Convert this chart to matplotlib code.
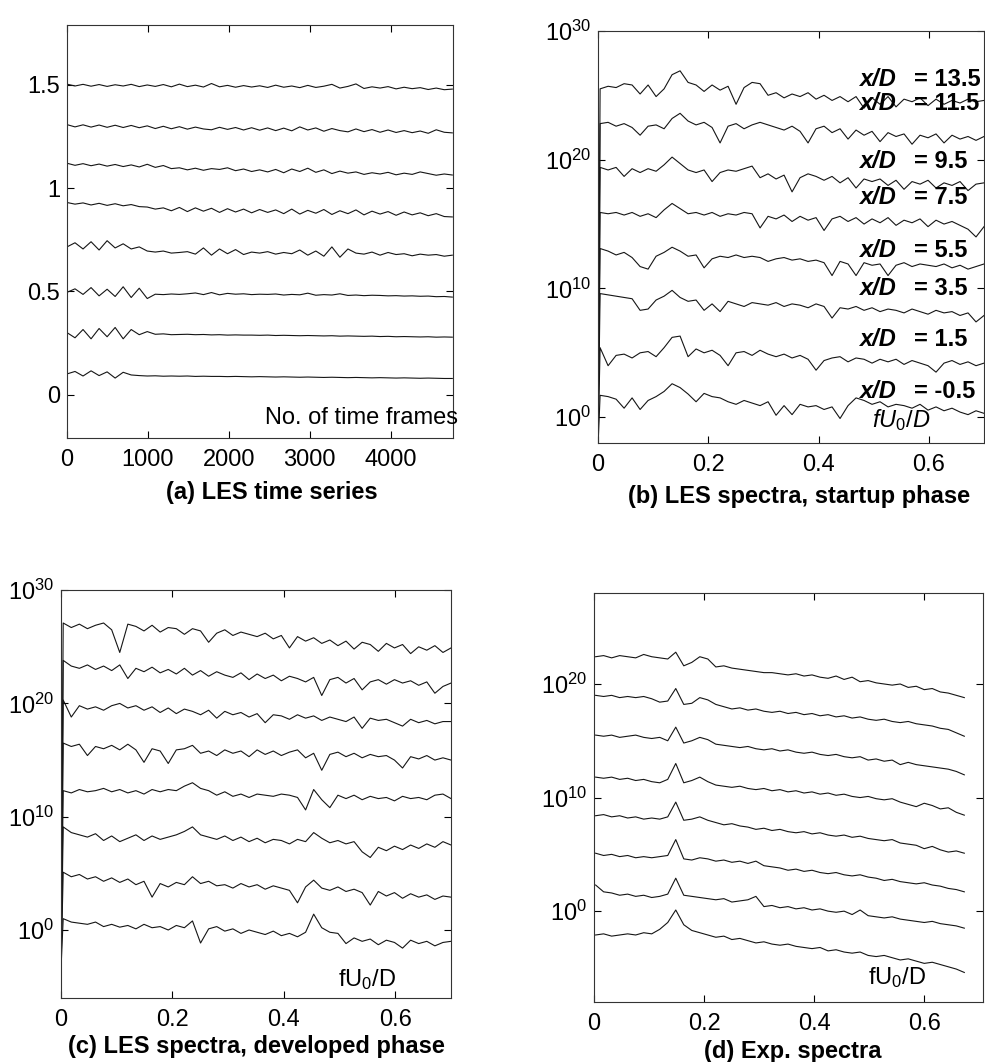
import numpy as np
import matplotlib
matplotlib.use('Agg')
import matplotlib.pyplot as plt

plt.rcParams['font.family'] = ['Liberation Sans', 'DejaVu Sans']
plt.rcParams['mathtext.fontset'] = 'custom'
plt.rcParams['mathtext.rm'] = 'Liberation Sans'
plt.rcParams['mathtext.it'] = 'Liberation Sans:italic'
plt.rcParams['mathtext.bf'] = 'Liberation Sans:bold'
plt.rcParams['font.size'] = 17

# ---- (a) LES time series: display shift + signal (thousandths) ----
a_shift = [1.5, 1.3, 1.1, 0.9, 0.7, 0.5, 0.3, 0.1]
a_sig = [
    [3, -6, 2, -7, 1, -8, 0, -6, 2, -9, -1, -8, 1, -10, 3, -9, -2, -11, 6, -10, -3, -12, -4, -11, -5,
     -13, -2, -12, -6, -14, -3, -13, -7, 2, -16, -8, 4, -18, -10, -16, -9, -20, -12, -19, -14, -23, -16, -24, -21],
    [7, -4, 6, -5, 5, -6, 4, -7, 3, -8, 1, -12, -1, -13, -3, -15, -5, -14, -18, -6, -16, -7, -19, -8, -20,
     -9, -22, -10, -23, -4, -19, -9, -25, -12, -22, -28, -14, -27, -17, -30, -19, -31, -22, -32, -24, -35, -18, -30, -33],
    [20, 10, 18, 8, 16, 6, 14, 4, 12, 2, 15, 0, 9, -6, -2, -12, -4, -14, -6, -10, -2, -16, -8, -20, -12,
     -22, -10, -26, -8, -20, -4, -24, -12, -30, -18, -28, -22, -34, -26, -32, -24, -36, -28, -34, -22, -30, -38, -32, -37],
    [30, 22, 28, 18, 26, 16, 24, 14, 20, 10, 8, -2, 4, -10, 6, -14, 4, -12, 2, -18, 0, -16, -2, -20, -4,
     -18, -6, -24, -2, -26, -8, -22, -4, -28, -10, -24, -6, -30, -12, -26, -14, -32, -16, -30, -20, -34, -24, -38, -40],
    [15, 35, 5, 40, 0, 45, 10, 30, 5, 15, -5, -10, -5, -15, -12, -8, -20, 10, -25, 5, -18, 2, -22, -10, -15,
     -8, -20, -12, -18, 0, -25, -5, -30, 15, -35, 5, -15, -20, -10, -25, -12, -22, -18, -28, -20, -25, -22, -30, -25],
    [-5, 12, -15, 18, -22, 10, -25, 22, -30, 15, -35, -14, -16, -13, -15, -12, -8, -16, -6, -17, -10, -14, -12, -16, -14,
     -15, -13, -18, -15, -17, -9, -19, -16, -18, -12, -20, -18, -21, -19, -20, -22, -21, -23, -22, -24, -23, -26, -25, -28],
    [0, -25, 15, -30, 20, -20, 25, -30, 15, -10, 5, -8, -6, -10, -9, -8, -10, -9, -11, -10, -12, -11, -12, -12, -13,
     -12, -14, -13, -14, -15, -14, -15, -16, -15, -17, -16, -17, -18, -17, -19, -18, -20, -19, -20, -21, -20, -22, -21, -22],
    [0, 12, -10, 15, -8, 10, -20, 8, -5, -8, -10, -9, -11, -10, -11, -10, -12, -11, -12, -12, -13, -12, -13, -14, -13,
     -14, -15, -14, -15, -16, -15, -16, -17, -16, -17, -18, -17, -18, -19, -18, -19, -20, -19, -20, -21, -20, -21, -22, -22],
]
a_last_frame = 4760

# ---- (b) LES spectra, startup phase (log10 of power, first value is f = 0) ----
b_log = [
    [-2.5, 25.5, 25.7, 25.6, 25.9, 25.8, 25.1, 25.8, 24.9, 25.5, 26.6, 26.9, 26.0, 25.8, 25.3, 25.8, 25.4, 25.7, 24.3, 25.6,
     26.0, 25.9, 25.0, 25.2, 24.8, 25.1, 24.9, 25.2, 24.7, 25.0, 24.6, 24.9, 24.5, 24.9, 24.0, 24.8, 24.3, 24.9, 24.1, 24.7,
     24.5, 24.8, 24.2, 24.7, 24.3, 24.6, 24.4, 24.7, 24.5, 24.6],
    [-2.5, 22.8, 22.9, 22.6, 22.8, 22.5, 21.9, 22.6, 22.7, 22.4, 23.2, 23.6, 23.0, 22.7, 22.9, 22.5, 21.3, 22.6, 22.8, 22.4,
     22.7, 22.9, 22.7, 22.5, 22.3, 22.6, 22.2, 21.3, 22.4, 22.6, 22.1, 22.4, 21.6, 22.3, 21.9, 22.2, 21.4, 22.1, 21.8, 22.0,
     21.2, 21.9, 21.7, 22.0, 21.3, 21.9, 21.6, 21.8, 21.5, 21.8],
    [-2.5, 19.4, 19.2, 19.4, 18.7, 19.3, 19.0, 19.3, 19.1, 19.6, 20.2, 19.7, 19.2, 19.0, 19.2, 18.3, 19.0, 19.2, 19.1, 19.3,
     19.5, 18.6, 18.9, 18.5, 18.8, 17.5, 18.6, 18.9, 18.7, 18.4, 18.7, 18.2, 18.6, 17.8, 18.5, 18.3, 18.5, 18.0, 18.4, 17.7,
     18.3, 18.1, 18.4, 17.8, 18.2, 18.0, 18.3, 17.6, 18.1, 18.2],
    [-2.5, 15.9, 15.8, 15.9, 15.7, 15.9, 15.6, 15.8, 15.5, 16.1, 16.6, 16.2, 15.8, 15.9, 15.7, 15.9, 15.6, 15.8, 15.7, 15.9,
     15.8, 14.7, 15.6, 15.4, 15.7, 15.2, 15.6, 15.3, 15.5, 14.5, 15.4, 15.6, 15.2, 15.5, 15.0, 15.4, 15.1, 15.5, 14.9, 15.3,
     15.1, 15.4, 14.8, 15.3, 15.0, 15.2, 14.9, 14.6, 14.0, 14.8],
    [-2.5, 13.1, 12.9, 12.6, 12.8, 12.4, 11.7, 11.5, 12.5, 12.8, 13.2, 12.9, 12.5, 12.6, 11.6, 12.3, 12.5, 12.4, 12.6, 12.4,
     12.5, 12.4, 12.1, 12.3, 12.4, 12.2, 12.3, 12.1, 12.2, 12.0, 11.0, 12.1, 11.9, 11.0, 12.0, 11.8, 11.9, 11.0, 11.8, 12.0,
     11.7, 11.9, 11.8, 11.7, 11.9, 11.6, 11.8, 11.5, 11.7, 11.9],
    [-2.5, 9.6, 9.5, 9.4, 9.3, 9.2, 8.3, 8.4, 9.1, 9.4, 9.85, 9.3, 9.0, 9.1, 8.3, 8.8, 8.2, 9.0, 8.8, 8.6,
     8.9, 8.8, 8.7, 8.9, 8.6, 8.8, 8.7, 8.5, 8.8, 8.6, 7.7, 8.5, 8.4, 8.6, 8.3, 8.5, 8.2, 8.4, 8.3, 8.1,
     8.4, 8.2, 8.0, 8.3, 8.1, 8.2, 7.9, 8.1, 7.4, 7.9],
    [-2.5, 5.4, 4.0, 4.8, 4.9, 4.6, 5.0, 5.1, 4.7, 5.4, 6.2, 6.3, 4.7, 5.3, 5.0, 5.2, 4.8, 4.0, 5.0, 5.1,
     4.8, 5.2, 4.9, 4.7, 4.9, 4.6, 4.8, 4.5, 3.65, 4.4, 4.6, 4.7, 4.3, 4.6, 4.5, 4.2, 4.5, 4.3, 4.5, 4.1,
     4.4, 4.2, 4.0, 3.5, 4.2, 4.4, 4.1, 4.3, 4.0, 4.2],
    [-2.5, 1.7, 1.6, 1.4, 0.7, 1.5, 0.6, 1.3, 1.6, 2.0, 2.6, 2.3, 1.8, 1.2, 1.85, 1.6, 1.5, 1.2, 1.0, 1.3,
     1.1, 0.9, 1.2, 0.15, 0.9, 0.2, 1.0, 0.8, 0.9, 0.6, 0.8, -0.1, 0.9, 1.5, 1.3, 1.0, 1.2, 0.8, 1.0, 0.9,
     0.7, 1.0, 0.55, 0.8, 0.5, 0.7, 0.4, 0.2, 0.5, 0.3],
]
b_names = ['13.5', '11.5', '9.5', '7.5', '5.5', '3.5', '1.5', '-0.5']

# ---- (c) LES spectra, developed phase ----
c_log = [
    [-3.5, 27.1, 26.7, 27.0, 26.6, 26.9, 27.1, 26.5, 24.5, 27.0, 26.8, 26.4, 26.9, 26.3, 26.7, 26.6, 26.1, 26.6, 26.4, 25.4,
     26.2, 26.5, 26.0, 26.3, 26.1, 25.9, 26.2, 25.7, 26.0, 24.9, 25.9, 25.5, 25.8, 25.3, 25.6, 25.1, 25.5, 24.8, 25.4, 25.2,
     24.6, 25.3, 24.9, 25.2, 24.4, 25.0, 24.7, 25.1, 24.5, 24.9],
    [-3.5, 23.8, 23.3, 23.1, 23.4, 23.0, 23.3, 22.9, 23.4, 22.2, 23.1, 22.8, 23.2, 22.7, 23.0, 22.6, 23.1, 22.5, 22.9, 22.4,
     22.8, 22.5, 22.3, 22.7, 22.1, 22.6, 22.2, 22.5, 22.0, 22.4, 22.2, 21.9, 22.3, 20.7, 22.1, 22.3, 21.8, 22.2, 21.2, 21.9,
     22.1, 21.7, 22.1, 21.8, 22.0, 21.6, 21.9, 20.9, 21.5, 21.8],
    [-3.5, 20.3, 18.8, 19.8, 19.5, 19.7, 19.4, 19.8, 20.0, 19.6, 19.8, 19.4, 19.7, 19.2, 19.6, 19.1, 19.5, 19.3, 19.0, 19.4,
     18.7, 19.3, 19.0, 19.2, 18.8, 19.1, 18.3, 19.0, 18.9, 18.6, 19.0, 18.7, 18.9, 18.5, 18.8, 18.6, 18.4, 18.8, 17.8, 18.7,
     18.5, 18.6, 18.3, 18.0, 18.6, 18.3, 18.5, 18.2, 18.4, 18.4],
    [-3.5, 16.5, 16.2, 16.4, 15.4, 16.2, 16.0, 16.3, 15.9, 16.4, 15.9, 14.8, 16.0, 15.8, 14.7, 15.9, 16.0, 16.3, 15.6, 15.8,
     15.4, 15.9, 15.6, 15.8, 15.3, 15.9, 15.5, 15.8, 15.4, 15.7, 15.9, 15.2, 15.6, 14.1, 15.5, 15.7, 15.3, 15.6, 15.2, 15.5,
     15.3, 15.4, 15.0, 14.3, 15.3, 15.1, 15.4, 15.0, 15.2, 15.0],
    [-3.5, 12.3, 12.1, 12.4, 12.2, 12.3, 12.5, 12.2, 12.4, 12.1, 12.3, 12.0, 12.4, 12.2, 12.4, 12.3, 12.7, 13.0, 12.5, 12.3,
     11.9, 12.2, 11.8, 12.0, 11.7, 12.0, 11.9, 11.8, 12.0, 11.9, 11.7, 10.6, 12.4, 11.5, 10.8, 11.9, 11.6, 11.9, 11.5, 11.8,
     11.6, 11.7, 11.4, 11.8, 11.6, 11.7, 11.5, 11.9, 12.0, 11.6],
    [-3.5, 9.1, 8.6, 8.4, 8.2, 8.5, 7.9, 8.3, 7.8, 8.1, 8.4, 7.9, 8.3, 8.0, 8.2, 8.4, 8.7, 9.1, 8.4, 8.2,
     8.0, 8.3, 7.9, 8.2, 7.8, 8.1, 7.7, 8.0, 7.9, 7.6, 8.0, 7.8, 8.6, 8.1, 7.7, 7.9, 7.6, 7.8, 6.9, 6.4,
     7.3, 7.0, 7.4, 7.1, 7.5, 7.2, 7.6, 7.3, 7.8, 7.5],
    [-3.5, 5.1, 4.7, 4.9, 4.5, 4.7, 4.3, 4.6, 4.2, 4.5, 4.0, 4.3, 2.9, 4.1, 3.8, 4.2, 4.0, 4.7, 4.1, 4.3,
     3.9, 4.0, 3.7, 4.1, 3.8, 4.0, 3.6, 3.9, 3.7, 3.5, 2.4, 3.8, 4.4, 3.7, 3.5, 3.8, 3.4, 3.6, 3.3, 2.2,
     3.4, 3.0, 3.3, 2.8, 3.2, 2.9, 3.1, 2.7, 3.0, 2.9],
    [-3.5, 1.0, 0.7, 0.6, 0.5, 0.7, 0.3, 0.5, 0.25, 0.4, 0.1, 0.5, 0.2, 0.3, 0.0, 0.4, 0.2, 0.8, -1.15, 0.1,
     0.3, -0.1, 0.1, -0.3, 0.0, -0.2, -0.4, -0.1, -0.5, -0.3, -0.6, -0.2, 1.4, 0.2, -0.2, -0.3, -1.2, -0.7, -1.0, -0.8,
     -1.3, -0.9, -1.1, -1.6, -0.9, -1.2, -1.0, -1.4, -1.1, -1.0],
]

# ---- (d) experimental spectra ----
d_log = [
    [22.4, 22.5, 22.3, 22.5, 22.4, 22.3, 22.6, 22.4, 22.3, 22.2, 22.8, 21.6, 21.9, 22.4, 22.2, 21.5, 21.6, 21.4, 21.3, 21.2,
     21.1, 21.0, 21.0, 20.9, 20.8, 20.9, 20.7, 20.8, 20.6, 20.5, 20.7, 20.4, 20.6, 20.2, 20.3, 20.1, 20.0, 19.9, 20.0, 19.7,
     19.8, 19.5, 19.6, 19.3, 19.2, 19.0, 18.8],
    [19.0, 18.9, 19.0, 18.8, 18.9, 18.8, 18.9, 18.7, 18.4, 18.5, 19.6, 18.2, 18.3, 18.8, 18.6, 18.2, 18.0, 17.8, 17.9, 17.7,
     17.8, 17.6, 17.5, 17.6, 17.4, 17.5, 17.3, 17.4, 17.2, 17.3, 17.1, 17.2, 17.0, 17.1, 16.9, 16.8, 16.9, 16.7, 16.6, 16.7,
     16.5, 16.4, 16.3, 16.1, 16.0, 15.7, 15.4],
    [15.5, 15.4, 15.5, 15.3, 15.4, 15.5, 15.3, 15.2, 15.3, 15.0, 16.2, 14.8, 15.0, 15.3, 15.1, 14.7, 14.6, 14.5, 14.4, 14.5,
     14.3, 14.2, 14.3, 14.1, 14.2, 14.0, 13.9, 14.0, 13.8, 13.7, 13.8, 13.6, 13.5, 13.6, 13.3, 13.4, 13.2, 13.3, 12.9, 13.1,
     12.9, 12.8, 12.7, 12.6, 12.5, 12.3, 12.0],
    [11.8, 11.7, 11.8, 11.6, 11.7, 11.5, 11.6, 11.4, 11.3, 11.6, 13.0, 11.3, 11.5, 11.8, 11.4, 11.1, 11.0, 10.9, 11.0, 10.8,
     10.7, 10.8, 10.6, 10.7, 10.5, 10.6, 10.4, 10.5, 10.3, 10.4, 10.2, 10.3, 10.1, 10.0, 10.1, 9.9, 9.8, 9.9, 9.6, 9.4,
     9.2, 9.5, 9.3, 9.0, 9.1, 8.7, 8.45],
    [8.4, 8.5, 8.3, 8.4, 8.2, 8.3, 8.1, 8.2, 8.1, 8.3, 9.6, 8.0, 8.1, 8.3, 8.0, 7.8, 7.6, 7.7, 7.5, 7.4,
     7.2, 7.3, 7.1, 7.2, 7.0, 6.9, 7.0, 6.8, 6.9, 6.7, 6.6, 6.7, 6.5, 6.6, 6.4, 6.3, 6.2, 6.3, 6.0, 5.9,
     5.8, 5.5, 5.7, 5.4, 5.2, 5.3, 5.1],
    [5.1, 4.9, 5.0, 4.8, 4.9, 4.7, 4.8, 4.7, 4.8, 4.9, 6.3, 4.6, 4.5, 4.7, 4.6, 4.4, 4.5, 4.3, 4.4, 4.2,
     4.4, 4.0, 3.9, 3.8, 3.6, 3.7, 3.5, 3.6, 3.4, 3.3, 3.4, 3.2, 3.1, 3.2, 3.0, 2.9, 2.7, 2.8, 2.6, 2.5,
     2.4, 2.5, 2.3, 2.2, 2.0, 1.9, 1.7],
    [2.3, 1.7, 1.6, 1.4, 1.5, 1.3, 1.4, 1.2, 1.3, 1.5, 2.9, 1.4, 1.3, 1.2, 1.1, 1.0, 1.1, 0.8, 0.9, 1.0,
     1.3, 0.4, 0.5, 0.3, 0.4, 0.2, 0.3, 0.1, 0.2, 0.0, -0.1, 0.0, -0.3, 0.1, -0.4, -0.5, -0.6, -0.5, -0.7, -0.8,
     -0.9, -1.0, -0.9, -1.1, -1.2, -1.3, -1.5],
    [-2.1, -2.0, -2.2, -2.1, -2.0, -2.1, -1.9, -2.0, -1.6, -1.0, 0.1, -1.2, -1.7, -1.9, -2.1, -2.3, -2.2, -2.5, -2.4, -2.6,
     -2.8, -2.7, -2.9, -3.0, -2.9, -3.1, -3.2, -3.3, -3.2, -3.5, -3.4, -3.6, -3.7, -3.6, -3.9, -4.0, -3.9, -4.1, -4.3, -4.2,
     -4.4, -4.6, -4.5, -4.7, -4.9, -5.1, -5.4],
]
d_f_first, d_f_last = 0.003, 0.673

LINE = '#151515'


def style(ax):
    for s in ax.spines.values():
        s.set_linewidth(0.8)
        s.set_color('#333333')
    ax.tick_params(direction='in', top=True, right=True, length=5, width=0.8)
    ax.tick_params(axis='x', pad=8)
    ax.tick_params(axis='y', pad=5)


def spec_freq(tr):
    # first sample is the zero-frequency bin
    return np.r_[0.0, np.linspace(0.004, 0.7, len(tr) - 1)]


fig = plt.figure(figsize=(9.85, 10.62), dpi=100)

# (a)
ax = fig.add_axes([0.068, 0.5876, 0.392, 0.389])
for sh, sig in zip(a_shift, a_sig):
    frames = np.linspace(0, a_last_frame, len(sig))
    ax.plot(frames, sh + np.array(sig) / 1000.0, color=LINE, lw=0.8)
ax.set_xlim(0, 4770)
ax.set_ylim(-0.21, 1.79)
ax.set_xticks([0, 1000, 2000, 3000, 4000])
ax.set_yticks([0, 0.5, 1, 1.5])
ax.set_yticklabels(['0', '0.5', '1', '1.5'])
style(ax)
ax.text(1.013, 0.048, 'No. of time frames', transform=ax.transAxes, ha='right', va='center')
ax.text(0.53, -0.131, '(a) LES time series', transform=ax.transAxes, ha='center', va='center',
        fontweight='bold')

log_ticks = [1e0, 1e10, 1e20, 1e30]
log_labels = [r'$10^{0}$', r'$10^{10}$', r'$10^{20}$', r'$10^{30}$']

# (b)
ax = fig.add_axes([0.607, 0.5829, 0.392, 0.388])
for tr in b_log:
    ax.semilogy(spec_freq(tr), 10.0 ** np.array(tr), color=LINE, lw=0.8)
ax.set_xlim(0, 0.7)
ax.set_ylim(1e-2, 1e30)
ax.set_xticks([0, 0.2, 0.4, 0.6])
ax.set_xticklabels(['0', '0.2', '0.4', '0.6'])
ax.set_yticks(log_ticks)
ax.set_yticklabels(log_labels)
ax.minorticks_off()
style(ax)
label_y = [0.881, 0.825, 0.682, 0.595, 0.468, 0.376, 0.25, 0.124]
for name, yy in zip(b_names, label_y):
    ax.text(0.677, yy, 'x/D', transform=ax.transAxes, ha='left', va='center',
            fontweight='bold', fontstyle='italic')
    ax.text(0.819, yy, '= ' + name, transform=ax.transAxes, ha='left', va='center',
            fontweight='bold')
ax.text(0.711, 0.056, r'$fU_0/D$', transform=ax.transAxes, ha='left', va='center')
ax.text(0.52, -0.131, '(b) LES spectra, startup phase', transform=ax.transAxes, ha='center',
        va='center', fontweight='bold')

# (c)
ax = fig.add_axes([0.0619, 0.0603, 0.396, 0.384])
for tr in c_log:
    ax.semilogy(spec_freq(tr), 10.0 ** np.array(tr), color=LINE, lw=0.8)
ax.set_xlim(0, 0.7)
ax.set_ylim(1e-6, 1e30)
ax.set_xticks([0, 0.2, 0.4, 0.6])
ax.set_xticklabels(['0', '0.2', '0.4', '0.6'])
ax.set_yticks(log_ticks)
ax.set_yticklabels(log_labels)
ax.minorticks_off()
style(ax)
ax.text(0.71, 0.044, r'$\mathrm{fU_0/D}$', transform=ax.transAxes, ha='left', va='center')
ax.text(0.5, -0.12, '(c) LES spectra, developed phase', transform=ax.transAxes, ha='center',
        va='center', fontweight='bold')

# (d)
ax = fig.add_axes([0.603, 0.0565, 0.395, 0.385])
for tr in d_log:
    f = np.linspace(d_f_first, d_f_last, len(tr))
    ax.semilogy(f, 10.0 ** np.array(tr), color=LINE, lw=0.8)
ax.set_xlim(0, 0.707)
ax.set_ylim(1e-8, 1e28)
ax.set_xticks([0, 0.2, 0.4, 0.6])
ax.set_xticklabels(['0', '0.2', '0.4', '0.6'])
ax.set_yticks(log_ticks[:3])
ax.set_yticklabels(log_labels[:3])
ax.minorticks_off()
style(ax)
ax.text(0.704, 0.059, r'$\mathrm{fU_0/D}$', transform=ax.transAxes, ha='left', va='center')
ax.text(0.51, -0.122, '(d) Exp. spectra', transform=ax.transAxes, ha='center', va='center',
        fontweight='bold')

fig.savefig('out.png', dpi=100, facecolor='white')
